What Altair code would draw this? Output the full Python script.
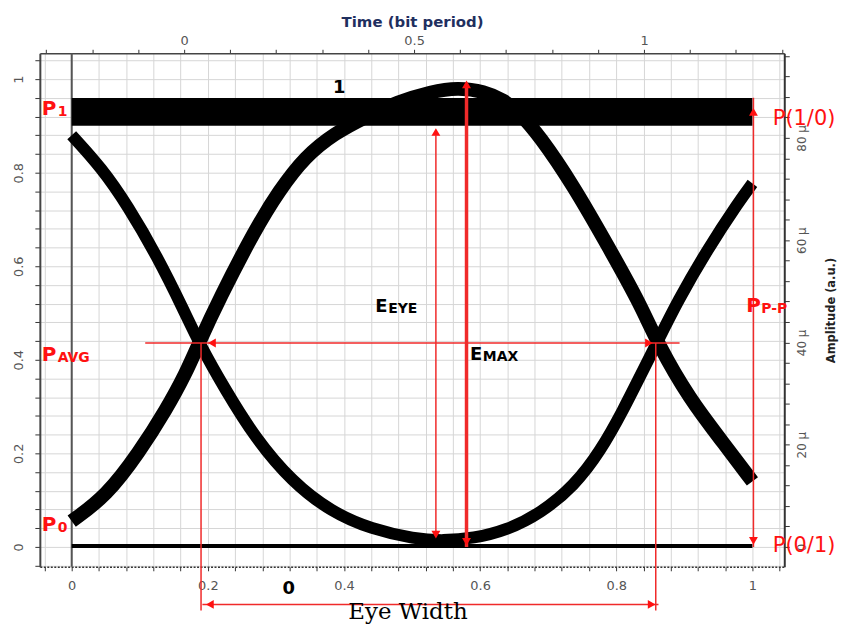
import altair as alt
import pandas as pd

# ---------------- scales (bottom/left in bit units, top in time, right in amplitude) ----
X_DOMAIN = [-0.0468, 1.0468]
Y_DOMAIN = [-0.0426, 1.0553]
TIME_DOMAIN = [-0.314, 1.305]
AMP_DOMAIN = [-3.89, 96.55]

GRID_VALUES = [-0.04, 0.0, 0.04, 0.08, 0.12, 0.16, 0.2, 0.24, 0.28, 0.32, 0.36, 0.4,
               0.44, 0.48, 0.52, 0.56, 0.6, 0.64, 0.68, 0.72, 0.76, 0.8, 0.84, 0.88,
               0.92, 0.96, 1.0, 1.04]
TIME_TICKS = [-0.3, -0.2, -0.1, 0.0, 0.1, 0.2, 0.3, 0.4, 0.5, 0.6, 0.7, 0.8, 0.9,
              1.0, 1.1, 1.2, 1.3]
AMP_TICKS = [0, 4, 8, 12, 16, 20, 24, 28, 32, 36, 40, 44, 48, 52, 56, 60, 64, 68,
             72, 76, 80, 84, 88, 92, 96]

# ---------------- eye traces ----------------
A_X = [0.0, 0.051, 0.099, 0.139, 0.168, 0.187, 0.216, 0.270, 0.304, 0.343, 0.387,
       0.430, 0.480, 0.528, 0.567, 0.606, 0.635, 0.655, 0.687, 0.738, 0.787, 0.835,
       0.860, 0.908, 0.957, 1.0]
A_Y = [0.055, 0.109, 0.202, 0.294, 0.372, 0.436, 0.528, 0.680, 0.760, 0.835, 0.885,
       0.918, 0.952, 0.973, 0.982, 0.974, 0.955, 0.932, 0.880, 0.770, 0.645, 0.520,
       0.437, 0.315, 0.223, 0.140]
B_X = [0.0, 0.044, 0.082, 0.126, 0.165, 0.187, 0.226, 0.270, 0.323, 0.382, 0.440,
       0.504, 0.545, 0.590, 0.640, 0.689, 0.738, 0.777, 0.811, 0.835, 0.860, 0.890,
       0.933, 0.981, 1.0]
B_Y = [0.880, 0.810, 0.730, 0.620, 0.505, 0.436, 0.335, 0.232, 0.140, 0.074, 0.038,
       0.017, 0.013, 0.018, 0.036, 0.072, 0.130, 0.205, 0.295, 0.365, 0.437, 0.525,
       0.634, 0.740, 0.777]
ONE_X = [0.0, 1.0]
ONE_Y = [0.930, 0.930]
ZERO_X = [0.0, 1.0]
ZERO_Y = [0.002, 0.002]

# ---------------- annotations ----------------
RULE_X = [0.108, 0.190, 0.858, 0.192, 0.535, 0.580, 1.0015]
RULE_X2 = [0.893, 0.190, 0.858, 0.862, 0.535, 0.580, 1.0015]
RULE_Y = [0.436, 0.436, 0.436, -0.123, 0.880, 0.990, 0.960]
RULE_Y2 = [0.436, -0.136, -0.136, -0.123, 0.030, 0.000, 0.000]
RULE_W = [1.5, 1.5, 1.5, 1.5, 1.5, 3.5, 1.5]

HEAD_X = [0.535, 0.535, 0.580, 0.580, 1.0015, 1.0015, 0.206, 0.848, 0.203, 0.852]
HEAD_Y = [0.887, 0.026, 0.989, 0.011, 0.930, 0.013, 0.436, 0.436, -0.123, -0.123]
HEAD_SHAPE = ['triangle-up', 'triangle-down', 'triangle-up', 'triangle-down',
              'triangle-up', 'triangle-down', 'triangle-left', 'triangle-right',
              'triangle-left', 'triangle-right']

P_TEXT = ['P', 'P', 'P', 'P']
P_X = [-0.0439, -0.0439, -0.0439, 0.991]
P_Y = [0.923, 0.398, 0.034, 0.502]
PSUB_TEXT = ['1', 'AVG', '0', 'P-P']
PSUB_X = [-0.0205, -0.0205, -0.0205, 1.013]
PSUB_Y = [0.921, 0.396, 0.032, 0.500]

E_TEXT = ['E', 'E']
E_X = [0.446, 0.585]
E_Y = [0.502, 0.400]
ESUB_TEXT = ['EYE', 'MAX']
ESUB_X = [0.465, 0.604]
ESUB_Y = [0.500, 0.398]

PLEVEL_TEXT = ['P(1/0)', 'P(0/1)']
PLEVEL_X = [1.030, 1.030]
PLEVEL_Y = [0.902, -0.0106]

BIT_TEXT = ['1', '0']
BIT_X = [0.393, 0.319]
BIT_Y = [0.970, -0.100]

EW_TEXT = ['Eye Width']
EW_X = [0.494]
EW_Y = [-0.155]

RED = '#ff1111'
RED_LINE = '#f02a2a'

# ---------------- tables ----------------
curves = pd.concat([
    pd.DataFrame({'series': 'A', 'x': A_X, 'y': A_Y, 'w': 14}),
    pd.DataFrame({'series': 'B', 'x': B_X, 'y': B_Y, 'w': 12}),
    pd.DataFrame({'series': 'one', 'x': ONE_X, 'y': ONE_Y, 'w': 28}),
    pd.DataFrame({'series': 'zero', 'x': ZERO_X, 'y': ZERO_Y, 'w': 4}),
], ignore_index=True)
rules = pd.DataFrame({'x': RULE_X, 'x2': RULE_X2, 'y': RULE_Y, 'y2': RULE_Y2, 'w': RULE_W})
heads = pd.DataFrame({'x': HEAD_X, 'y': HEAD_Y, 'shape': HEAD_SHAPE})


def tdf(t, x, y):
    return pd.DataFrame({'t': t, 'x': x, 'y': y})


main_expr = ("abs(datum.value*5 - round(datum.value*5)) < 0.001 && datum.value > -0.01 "
             "&& datum.value < 1.01 ? format(datum.value, '.1~f') : ''")

x_axis = alt.Axis(orient='bottom', values=GRID_VALUES, labelExpr=main_expr, grid=True,
                  gridColor='#d6d6d6', gridWidth=1, tickSize=4, tickColor='#333',
                  domainColor='#333', domainWidth=1.5, domainDash=[2, 1.5],
                  labelFont='DejaVu Sans', labelFontSize=13, labelColor='#555',
                  labelPadding=9, labelOverlap=False, labelFlush=False, title=None)
y_axis = alt.Axis(orient='left', values=GRID_VALUES, labelExpr=main_expr, grid=True,
                  gridColor='#d6d6d6', gridWidth=1, tickSize=5, tickColor='#333',
                  domainColor='#444', domainWidth=2, labelAngle=270, labelAlign='center',
                  labelBaseline='bottom', labelFont='DejaVu Sans', labelFontSize=13,
                  labelColor='#555', labelPadding=9, labelOverlap=False,
                  labelFlush=False, title=None)
top_axis = alt.Axis(orient='top', values=TIME_TICKS,
                    labelExpr=("abs(datum.value*2 - round(datum.value*2)) < 0.001 && "
                               "datum.value > -0.01 && datum.value < 1.01 ? "
                               "format(datum.value, '.1~f') : ''"),
                    grid=False, tickSize=4, tickColor='#333', domainColor='#444',
                    domainWidth=1.5, labelFont='DejaVu Sans', labelFontSize=13,
                    labelColor='#555', labelPadding=2, labelOverlap=False,
                    labelFlush=False, title='Time (bit period)', titleFont='DejaVu Sans',
                    titleFontSize=15, titleFontWeight='bold', titleColor='#1f2f5f',
                    titleY=-32, titleBaseline='middle')
right_axis = alt.Axis(orient='right', values=AMP_TICKS,
                      labelExpr=("datum.value % 20 == 0 ? (datum.value == 0 ? '0' : "
                                 "datum.value + ' µ') : ''"),
                      grid=False, tickSize=5, tickColor='#333', domainColor='#333',
                      domainWidth=2, labelAngle=270, labelAlign='center',
                      labelBaseline='top', labelFont='DejaVu Sans', labelFontSize=12,
                      labelColor='#555', labelPadding=7, labelOverlap=False,
                      labelFlush=False, title='Amplitude (a.u.)', titleAngle=270,
                      titleX=47, titleY=258, titleBaseline='middle',
                      titleFont='DejaVu Sans', titleFontSize=11.5,
                      titleFontWeight='bold', titleColor='#222')

xs = alt.Scale(domain=X_DOMAIN, nice=False, zero=False)
ys = alt.Scale(domain=Y_DOMAIN, nice=False, zero=False)
X = alt.X('x:Q', scale=xs, axis=x_axis)
Y = alt.Y('y:Q', scale=ys, axis=y_axis)

zero_rule = alt.Chart(pd.DataFrame({'x': [0.0]})).mark_rule(
    color='#555', strokeWidth=2).encode(x=X, y=alt.value(0), y2=alt.value(516))

curve_layer = alt.Chart(curves).mark_line(
    color='black', interpolate='basis', strokeCap='butt', strokeJoin='round'
).encode(x=X, y=Y, detail='series:N', strokeWidth=alt.StrokeWidth('w:Q', scale=None))

rule_layer = alt.Chart(rules).mark_rule(color=RED_LINE).encode(
    x=X, x2='x2:Q', y=Y, y2='y2:Q', strokeWidth=alt.StrokeWidth('w:Q', scale=None))

head_layer = alt.Chart(heads).mark_point(
    filled=True, color=RED, opacity=1, size=80).encode(
    x=X, y=Y, shape=alt.Shape('shape:N', scale=None))


def text_layer(df, **kw):
    return alt.Chart(df).mark_text(**kw).encode(x=X, y=Y, text='t:N')


t_p = text_layer(tdf(P_TEXT, P_X, P_Y), align='left', baseline='alphabetic',
                 font='DejaVu Sans', fontSize=20, fontWeight='bold', color=RED)
t_psub = text_layer(tdf(PSUB_TEXT, PSUB_X, PSUB_Y), align='left', baseline='alphabetic',
                    font='DejaVu Sans', fontSize=14, fontWeight='bold', color=RED)
t_e = text_layer(tdf(E_TEXT, E_X, E_Y), align='left', baseline='alphabetic',
                 font='DejaVu Sans', fontSize=18, fontWeight='bold', color='black')
t_esub = text_layer(tdf(ESUB_TEXT, ESUB_X, ESUB_Y), align='left', baseline='alphabetic',
                    font='DejaVu Sans', fontSize=14, fontWeight='bold', color='black')
t_lvl = text_layer(tdf(PLEVEL_TEXT, PLEVEL_X, PLEVEL_Y), align='left',
                   baseline='alphabetic', font='DejaVu Sans', fontSize=21, color=RED)
t_bit = text_layer(tdf(BIT_TEXT, BIT_X, BIT_Y), align='center', baseline='alphabetic',
                   font='DejaVu Sans', fontSize=18, fontWeight='bold', color='black')
t_ew = text_layer(tdf(EW_TEXT, EW_X, EW_Y), align='center', baseline='alphabetic',
                  font='DejaVu Serif', fontSize=23, color='black')

main = alt.layer(zero_rule, curve_layer, rule_layer, head_layer, t_p, t_psub, t_e,
                 t_esub, t_lvl, t_bit, t_ew)

axes_layer = alt.Chart(pd.DataFrame({'t': [0.5], 'a': [50.0]})).mark_point(
    opacity=0).encode(
    x=alt.X('t:Q', scale=alt.Scale(domain=TIME_DOMAIN, nice=False, zero=False),
            axis=top_axis),
    y=alt.Y('a:Q', scale=alt.Scale(domain=AMP_DOMAIN, nice=False, zero=False),
            axis=right_axis))

chart = alt.layer(main, axes_layer).resolve_scale(
    x='independent', y='independent'
).properties(
    width=748, height=516,
    autosize=alt.AutoSizeParams(type='none'),
    padding={'left': 32, 'top': 44, 'right': 58, 'bottom': 58},
    background='white'
).configure_view(strokeWidth=0)

chart.save('out.html', embed_options={'renderer': 'svg', 'actions': False})
